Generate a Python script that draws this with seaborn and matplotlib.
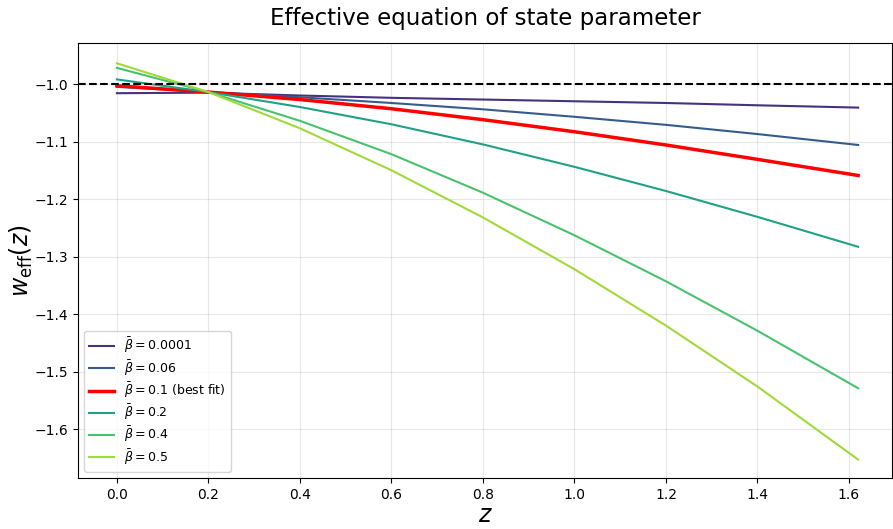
import numpy as np
import pandas as pd
import matplotlib
matplotlib.use("Agg")
import matplotlib.pyplot as plt
import seaborn as sns

z = [0.0, 0.2, 0.4, 0.6, 0.8, 1.0, 1.2, 1.4, 1.62]

beta_values = ["0.0001", "0.06", "0.1", "0.2", "0.4", "0.5"]
label_suffix = ["", "", " (best fit)", "", "", ""]

w_b0001 = [-1.016, -1.015, -1.020, -1.024, -1.027, -1.030, -1.033, -1.037, -1.041]
w_b006 = [-1.005, -1.014, -1.023, -1.033, -1.044, -1.057, -1.071, -1.087, -1.106]
w_b01 = [-1.003, -1.014, -1.027, -1.043, -1.062, -1.083, -1.106, -1.131, -1.159]
w_b02 = [-0.992, -1.014, -1.040, -1.070, -1.105, -1.144, -1.186, -1.231, -1.283]
w_b04 = [-0.972, -1.014, -1.064, -1.122, -1.189, -1.263, -1.343, -1.429, -1.529]
w_b05 = [-0.964, -1.014, -1.077, -1.150, -1.232, -1.322, -1.420, -1.526, -1.653]

series = [w_b0001, w_b006, w_b01, w_b02, w_b04, w_b05]

palette = sns.color_palette("viridis", 6)
colors = list(palette)
colors[2] = "red"
widths = [1.5, 1.5, 2.5, 1.5, 1.5, 1.5]

fig = plt.figure(figsize=(8.93, 5.29), dpi=100)
ax = fig.add_axes([78 / 893, 51 / 529, (892 - 78) / 893, (486 - 51) / 529])

for bv, suf, vals, c, lw in zip(beta_values, label_suffix, series, colors, widths):
    df = pd.DataFrame({"z": z, "w": vals})
    sns.lineplot(data=df, x="z", y="w", ax=ax, color=c, linewidth=lw,
                 label=r"$\bar{\beta} = " + bv + "$" + suf)

ax.axhline(-1.0, color="black", linestyle="--", linewidth=1.5)

ax.set_xlim(-0.085, 1.694)
ax.set_ylim(-1.685, -0.9287)
ax.set_xticks([0.0, 0.2, 0.4, 0.6, 0.8, 1.0, 1.2, 1.4, 1.6])
ax.set_yticks([-1.0, -1.1, -1.2, -1.3, -1.4, -1.5, -1.6])
ax.grid(True, alpha=0.3)
ax.set_xlabel(r"$z$", fontsize=17, labelpad=1)
ax.set_ylabel(r"$w_{\rm eff}(z)$", fontsize=17, labelpad=0)
ax.set_title("Effective equation of state parameter", fontsize=16.5, pad=13)
ax.legend(loc="lower left", fontsize=9, labelspacing=0.22)

fig.savefig("out.png", dpi=100)
